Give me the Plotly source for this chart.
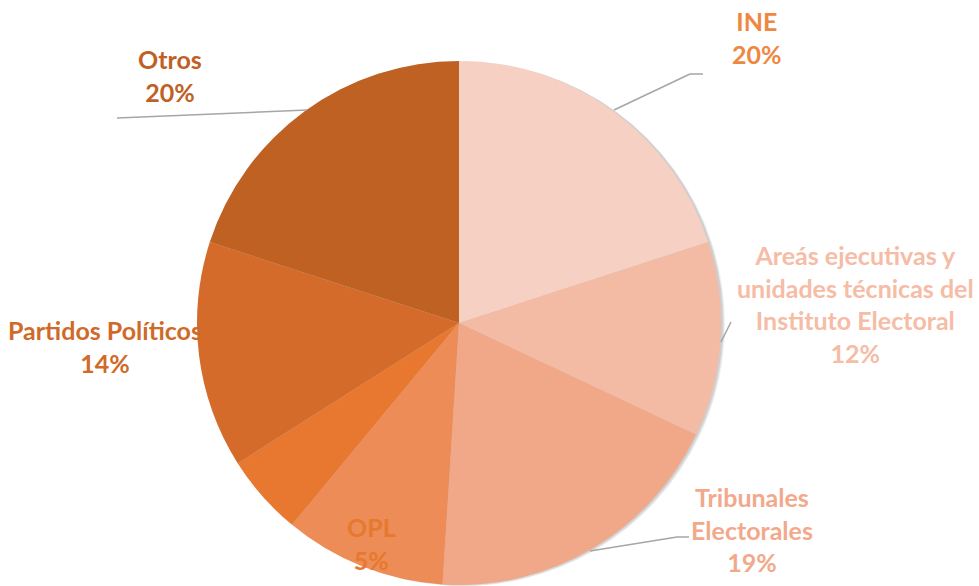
import plotly.graph_objects as go

W, H = 979, 586

# ---- data ----
categories = ["INE", "Areás ejecutivas y unidades técnicas del Instituto Electoral",
              "Tribunales Electorales", "Sin etiqueta", "OPL", "Partidos Políticos", "Otros"]
values = [20, 12, 19, 10, 5, 14, 20]
label_texts = ["INE<br>20%", "Areás ejecutivas y<br>unidades técnicas del<br>Instituto Electoral<br>12%",
               "Tribunales<br>Electorales<br>19%", "", "OPL<br>5%", "Partidos Políticos<br>14%", "Otros<br>20%"]

slice_colors = ["#F6D0C2", "#F3BAA4", "#F0A889", "#EE8C58", "#E8782F", "#D46B2A", "#C06124"]
label_colors = ["#EE8740", "#F5BCA6", "#F2A98B", "#EE8C58", "#E5792D", "#D06A28", "#BF6125"]

# label centres (px) and leader lines (px)
label_pos = [(757, 38), (855, 304), (752, 529), None, (371, 543), (105, 346), (170, 76)]
leaders = [
    [(614, 110), (690, 74), (703, 74)],
    [(721, 342), (731, 322)],
    [(590, 551), (677, 537), (689, 537)],
    [(117, 118), (307, 110)],
]

cx, cy, r = 459, 323, 262


def px(x, y):
    return x / W, 1 - y / H


def clamp(v):
    return min(1.0, max(0.0, v))


fig = go.Figure()

# soft shadow (offset right, limited by the canvas bottom)
for dx, dy, a in [(4, 1, 0.05), (3, 1, 0.07), (2, 0, 0.08)]:
    x0, y0 = px(cx - r + dx, cy + r + dy)
    x1, y1 = px(cx + r + dx, cy - r + dy)
    fig.add_trace(go.Pie(
        values=values, labels=categories, sort=False, direction="clockwise", rotation=0,
        marker=dict(colors=[f"rgba(0,0,0,{a})"] * len(values), line=dict(width=0)),
        textinfo="none", hoverinfo="skip", showlegend=False,
        domain=dict(x=[clamp(x0), clamp(x1)], y=[clamp(y0), clamp(y1)]),
    ))

x0, y0 = px(cx - r, cy + r)
x1, y1 = px(cx + r, cy - r)
fig.add_trace(go.Pie(
    values=values, labels=categories, sort=False, direction="clockwise", rotation=0,
    marker=dict(colors=slice_colors, line=dict(width=0)),
    textinfo="none", showlegend=False,
    domain=dict(x=[clamp(x0), clamp(x1)], y=[clamp(y0), clamp(y1)]),
))

for txt, col, pos in zip(label_texts, label_colors, label_pos):
    if pos is None or not txt:
        continue
    ax, ay = px(*pos)
    fig.add_annotation(
        x=ax, y=ay, xref="paper", yref="paper", showarrow=False,
        text=f"<b>{txt}</b>", align="center", xanchor="center", yanchor="middle",
        font=dict(family="Lato, Open Sans, sans-serif", size=25, color=col),
    )

for pts in leaders:
    for (xa, ya), (xb, yb) in zip(pts[:-1], pts[1:]):
        pa, qa = px(xa, ya)
        pb, qb = px(xb, yb)
        fig.add_shape(type="line", xref="paper", yref="paper", x0=pa, y0=qa, x1=pb, y1=qb,
                      line=dict(color="#A6A6A6", width=1.5))

fig.update_layout(
    width=W, height=H, margin=dict(l=0, r=0, t=0, b=0),
    paper_bgcolor="white", plot_bgcolor="white", showlegend=False,
)

fig.write_html("out.html", config={"displayModeBar": False},
               post_script="document.body.style.margin='0';document.body.style.overflow='hidden';")
